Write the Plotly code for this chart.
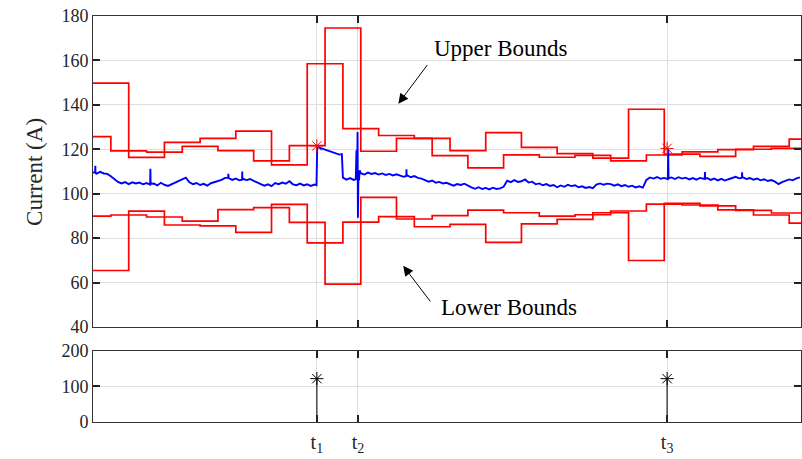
import numpy as np
import plotly.graph_objects as go

# ---- bound levels (A); one level per step interval ----
step_period = 1.0
t_end = 19.83

# first estimator: steps change on whole periods
upper_a = [149.8, 116.3, 123.1, 124.9, 128.2, 113.0, 158.5, 129.3, 126.2, 124.9,
           119.4, 127.5, 120.8, 118.0, 116.0, 138.0, 117.8, 116.8, 120.0, 120.4]
lower_a = [65.4, 92.1, 85.9, 85.5, 82.6, 95.2, 77.8, 87.2, 89.7, 85.1,
           86.2, 78.1, 86.4, 88.4, 91.4, 69.9, 95.6, 94.5, 92.5, 91.3]

# second estimator: steps change half a period later
upper_b = [125.7, 119.3, 118.7, 121.3, 119.4, 114.8, 121.6, 174.6, 119.1, 124.9, 117.1,
           111.6, 117.5, 116.4, 117.2, 114.8, 117.4, 118.8, 119.8, 121.3, 124.6]
lower_b = [89.9, 90.4, 89.5, 87.6, 92.8, 93.7, 87.1, 59.3, 98.3, 88.6, 90.1,
           92.6, 91.4, 89.9, 90.5, 92.2, 95.3, 94.9, 92.7, 90.4, 86.7]

# ---- measured current, sampled every 0.1 time units ----
sample_dt = 0.1
current = [
    109.6, 109.0, 109.8, 109.1, 108.9, 107.8, 106.4, 105.3, 104.6, 105.2,
    104.3, 105.1, 104.6, 105.0, 104.2, 104.8, 104.1, 104.6, 103.7, 104.9,
    104.0, 103.5, 104.2, 105.0, 105.6, 106.3, 107.2, 105.1, 104.3, 104.8,
    103.9, 104.4, 103.6, 104.7, 105.2, 105.9, 106.2, 107.1, 107.0, 106.2,
    106.8, 106.0, 106.7, 106.1, 106.6, 105.8, 105.2, 104.3, 103.6, 104.2,
    103.4, 104.8, 104.3, 105.0, 104.5, 105.6, 104.2, 103.8, 104.5, 103.7,
    104.2, 103.5, 104.1, 120.9, 120.4, 119.8, 119.3, 118.9, 118.2, 117.6,
    107.2, 106.3, 107.0, 106.2, 111.5, 109.2, 108.6, 109.5, 108.9, 109.3,
    108.6, 109.1, 108.4, 108.9, 108.2, 108.7, 108.0, 107.6, 108.3, 107.4,
    107.9, 107.1, 106.8, 106.2, 105.4, 105.9, 104.9, 105.3, 104.6, 104.9,
    104.1, 103.6, 104.3, 103.9, 104.5, 103.6, 102.8, 102.2, 102.9, 102.1,
    102.6, 101.9, 102.7, 102.1, 102.4, 103.1, 105.8, 105.2, 106.1, 105.3,
    105.6, 106.4, 105.0, 105.4, 104.2, 104.6, 103.8, 104.3, 103.5, 103.9,
    102.9, 103.7, 103.1, 104.0, 103.4, 103.8, 102.9, 103.3, 102.6, 103.0,
    102.5, 104.1, 104.6, 104.0, 104.5, 104.3, 103.6, 104.2, 103.4, 103.9,
    103.1, 103.6, 102.8, 103.3, 102.7, 106.2, 107.3, 106.8, 107.5, 106.7,
    107.1, 106.5, 107.3, 106.6, 107.4, 106.8, 107.2, 106.4, 107.0, 106.3,
    107.1, 106.5, 107.0, 106.2, 106.8, 106.0, 106.7, 105.9, 106.5, 107.2,
    107.6, 106.9, 107.4, 106.6, 107.0, 106.3, 106.8, 106.0, 106.5, 105.7,
    106.1, 105.4, 104.3, 105.2, 105.9, 106.4, 106.0, 106.9, 107.3,
]

# short transients captured between the regular samples
transient_t = [0.06, 0.065, 0.07, 1.600, 1.607, 1.614, 3.785, 3.79, 3.795,
               4.175, 4.18, 4.185, 6.26, 6.28, 6.97, 6.985,
               7.36, 7.38, 7.395, 7.41, 7.42, 7.435, 7.45, 7.47,
               8.775, 8.78, 8.785, 16.10, 16.11, 16.12,
               17.135, 17.14, 17.145, 18.175, 18.18, 18.185]
transient_i = [109.4, 112.6, 109.3, 104.5, 111.2, 104.4, 107.2, 108.9, 107.1,
               106.3, 110.0, 106.2, 103.8, 121.4, 117.8, 107.5,
               106.5, 119.5, 112.0, 127.8, 89.2, 110.0, 106.0, 110.5,
               107.9, 111.0, 107.8, 106.8, 120.2, 106.9,
               106.6, 109.7, 106.7, 107.2, 109.6, 107.1]

# ---- detection events ----
event_t = [6.27, 16.08]
event_bound = [121.5, 120.4]
event_level = [122, 122]
marker_t = [6.27, 7.42, 16.08]
marker_labels = ["t<sub>1</sub>", "t<sub>2</sub>", "t<sub>3</sub>"]

FONT = "Liberation Serif"
RED = "#ff0000"
BLUE = "#0000ff"
GRID = "#dedede"
AX = "#333333"


def stair(levels, offset):
    edges = [0.0] + [offset + k * step_period for k in range(1, len(levels))]
    edges = [e for e in edges if e < t_end]
    vals = list(levels[:len(edges)])
    return edges + [t_end], vals + [vals[-1]]


fig = go.Figure()

for lv, off in [(upper_a, 0.0), (lower_a, 0.0), (upper_b, -0.5), (lower_b, -0.5)]:
    xs, ys = stair(lv, off)
    fig.add_trace(go.Scatter(x=xs, y=ys, mode="lines", line=dict(color=RED, width=1.7, shape="hv"),
                             xaxis="x", yaxis="y", showlegend=False, hoverinfo="skip"))

t_grid = list(np.arange(len(current)) * sample_dt)
pts = sorted(zip(t_grid + transient_t, current + transient_i), key=lambda p: p[0])
fig.add_trace(go.Scatter(x=[p[0] for p in pts], y=[p[1] for p in pts], mode="lines",
                         line=dict(color=BLUE, width=1.9), xaxis="x", yaxis="y", showlegend=False))

fig.add_trace(go.Scatter(x=event_t, y=event_bound, mode="markers",
                         marker=dict(symbol="asterisk-open", size=11, color=RED,
                                     line=dict(color=RED, width=1)),
                         xaxis="x", yaxis="y", showlegend=False))

# stem plot of detected events
stem_x, stem_y = [], []
for t, v in zip(event_t, event_level):
    stem_x += [t, t, None]
    stem_y += [0, v, None]
fig.add_trace(go.Scatter(x=stem_x, y=stem_y, mode="lines", line=dict(color="#222222", width=1.2),
                         xaxis="x2", yaxis="y2", showlegend=False))
fig.add_trace(go.Scatter(x=event_t, y=event_level, mode="markers",
                         marker=dict(symbol="asterisk-open", size=11, color="black",
                                     line=dict(color="black", width=1)),
                         xaxis="x2", yaxis="y2", showlegend=False))

axis_common = dict(showline=True, linecolor=AX, linewidth=1, mirror="allticks",
                   ticks="inside", ticklen=7, tickwidth=1.5, tickcolor="#222222",
                   showgrid=True, gridcolor=GRID, gridwidth=1, zeroline=False)
tick_font = dict(family=FONT, size=18, color="#262626")

fig.update_layout(
    width=802, height=459,
    margin=dict(l=93, r=1, t=16, b=37),
    paper_bgcolor="white", plot_bgcolor="white",
    xaxis=dict(domain=[0, 1], range=[0, t_end], tickvals=marker_t, showticklabels=False,
               anchor="y", tickfont=tick_font, **axis_common),
    yaxis=dict(domain=[0.2342, 1.0], range=[40, 180], tickvals=list(range(40, 181, 20)),
               anchor="x", tickfont=tick_font, **axis_common),
    xaxis2=dict(domain=[0, 1], range=[0, t_end], tickvals=marker_t, ticktext=marker_labels,
                anchor="y2", tickfont=dict(family=FONT, size=20, color="#262626"),
                ticklabelstandoff=2, **axis_common),
    yaxis2=dict(domain=[0, 0.175], range=[0, 200], tickvals=[0, 100, 200],
                anchor="x2", tickfont=tick_font, **axis_common),
    annotations=[
        dict(text="Current (A)", xref="paper", yref="paper", x=-0.103, y=0.615,
             textangle=-90, showarrow=False, font=dict(family=FONT, size=23, color="#262626")),
        dict(text="Upper Bounds", xref="x", yref="y", x=9.5, y=165.5, xanchor="left",
             yanchor="middle", showarrow=False, font=dict(family=FONT, size=23, color="black")),
        dict(text="Lower Bounds", xref="x", yref="y", x=9.69, y=48.6, xanchor="left",
             yanchor="middle", showarrow=False, font=dict(family=FONT, size=23, color="black")),
        dict(text="", xref="x", yref="y", x=8.553, y=140.5, axref="x", ayref="y",
             ax=9.394, ay=158.6, showarrow=True, arrowhead=2, arrowsize=2, arrowwidth=1,
             arrowcolor="black"),
        dict(text="", xref="x", yref="y", x=8.688, y=67.5, axref="x", ayref="y",
             ax=9.481, ay=50.8, showarrow=True, arrowhead=2, arrowsize=2, arrowwidth=1,
             arrowcolor="black"),
    ],
)

fig.write_html("out.html")
